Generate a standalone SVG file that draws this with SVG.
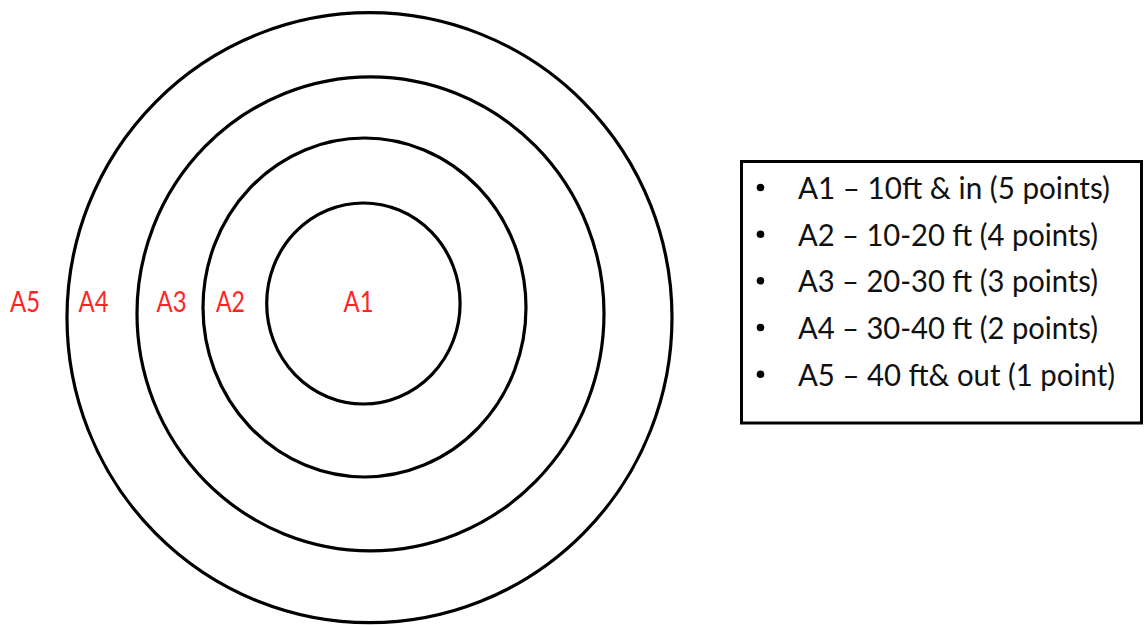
<svg xmlns="http://www.w3.org/2000/svg" width="1144" height="625" viewBox="0 0 1144 625">
  <style>
    .ring { fill: none; stroke: #000; stroke-width: 3.2; }
    .zone { font-family: Lato, "Noto Sans", "Open Sans", sans-serif; font-size: 28px; fill: #ff2424; }
    .item { font-family: Lato, "Noto Sans", "Open Sans", sans-serif; font-size: 31px; fill: #111; }
    .box { fill: #fff; stroke: #000; stroke-width: 3; }
    .bullet { fill: #000; }
  </style>
  <rect width="1144" height="625" fill="#fff"/>
  <g id="target">
    <ellipse id="ring-a5" class="ring" cx="369.5" cy="317.7" rx="302.5" ry="305"/>
    <ellipse id="ring-a4" class="ring" cx="370.5" cy="313.8" rx="233.5" ry="237"/>
    <ellipse id="ring-a3" class="ring" cx="364.5" cy="307.5" rx="161.5" ry="169.5"/>
    <ellipse id="ring-a1" class="ring" cx="363.4" cy="303.5" rx="96.7" ry="100.5"/>
  </g>
  <g id="zone-labels">
    <text id="label-a5" class="zone" x="10" y="312" textLength="30" lengthAdjust="spacingAndGlyphs">A5</text>
    <text id="label-a4" class="zone" x="78.5" y="312" textLength="30" lengthAdjust="spacingAndGlyphs">A4</text>
    <text id="label-a3" class="zone" x="156.5" y="312" textLength="30" lengthAdjust="spacingAndGlyphs">A3</text>
    <text id="label-a2" class="zone" x="216" y="312" textLength="29" lengthAdjust="spacingAndGlyphs">A2</text>
    <text id="label-a1" class="zone" x="343.5" y="312" textLength="30" lengthAdjust="spacingAndGlyphs">A1</text>
  </g>
  <g id="legend">
    <rect class="box" x="741.5" y="161.5" width="400" height="261.5"/>
    <circle class="bullet" cx="760.5" cy="187.5" r="3.8"/>
    <circle class="bullet" cx="760.5" cy="234.2" r="3.8"/>
    <circle class="bullet" cx="760.5" cy="280.8" r="3.8"/>
    <circle class="bullet" cx="760.5" cy="327.5" r="3.8"/>
    <circle class="bullet" cx="760.5" cy="374.2" r="3.8"/>
    <text class="item" x="798" y="199" textLength="312" lengthAdjust="spacingAndGlyphs">A1 – 10ft &amp; in (5 points)</text>
    <text class="item" x="798" y="245.7" textLength="300" lengthAdjust="spacingAndGlyphs">A2 – 10-20 ft (4 points)</text>
    <text class="item" x="798" y="292.3" textLength="300" lengthAdjust="spacingAndGlyphs">A3 – 20-30 ft (3 points)</text>
    <text class="item" x="798" y="339" textLength="300" lengthAdjust="spacingAndGlyphs">A4 – 30-40 ft (2 points)</text>
    <text class="item" x="798" y="385.7" textLength="317" lengthAdjust="spacingAndGlyphs">A5 – 40 ft&amp; out (1 point)</text>
  </g>
</svg>
